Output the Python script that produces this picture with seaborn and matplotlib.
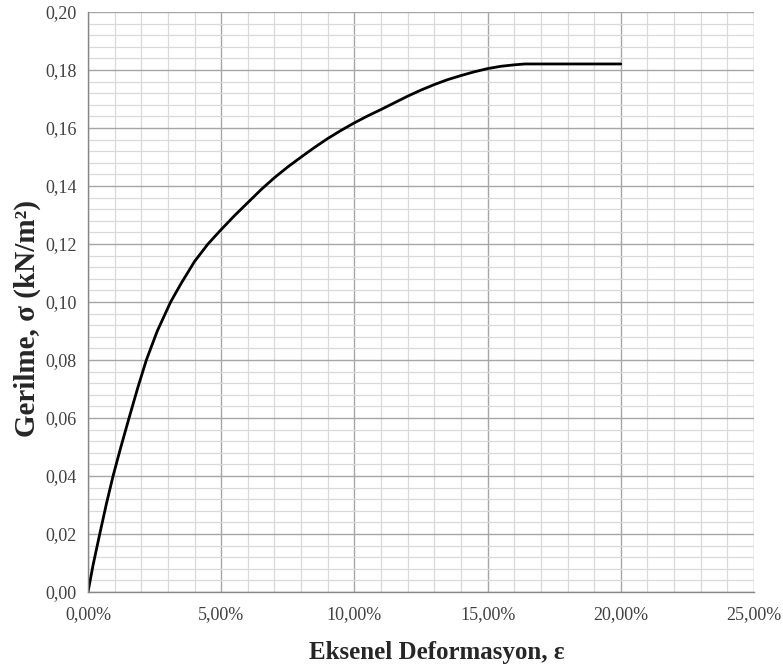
import numpy as np
import pandas as pd
import matplotlib
matplotlib.use('Agg')
import matplotlib.pyplot as plt
import seaborn as sns
from matplotlib.ticker import MultipleLocator, FuncFormatter

# okunan degerler (birim deformasyon %, gerilme kN/m2)
strain = [0.0, 0.19, 0.44, 0.69, 0.94, 1.23, 1.54, 1.87, 2.19, 2.60, 3.10,
          3.50, 4.00, 4.50, 5.00, 5.50, 6.00, 6.50, 7.00, 7.50, 8.00, 8.50,
          9.00, 9.50, 10.00, 10.50, 11.00, 11.50, 12.00, 12.50, 13.00,
          13.50, 14.00, 14.50, 15.00, 15.50, 16.00, 16.40, 17.00, 18.00,
          19.00, 20.00]
stress = [0.000, 0.0093, 0.020, 0.0304, 0.040, 0.0499, 0.060, 0.0705, 0.080,
          0.090, 0.100, 0.1065, 0.1140, 0.1200, 0.1250, 0.1298, 0.1343,
          0.1388, 0.1429, 0.1466, 0.1500, 0.1533, 0.1564, 0.1592, 0.1618,
          0.1642, 0.1664, 0.1687, 0.1710, 0.1731, 0.1750, 0.1767, 0.1781,
          0.1794, 0.1805, 0.1813, 0.1818, 0.1821, 0.1821, 0.1821, 0.1821,
          0.1821]

x_label = "Eksenel Deformasyon, ε"
y_label = "Gerilme, σ (kN/m²)"

df = pd.DataFrame({"strain": strain, "stress": stress})

sns.set_style("white")
plt.rcParams['font.family'] = ['Liberation Serif', 'DejaVu Serif']

fig = plt.figure(figsize=(7.83, 6.70), dpi=100)
ax = fig.add_axes([0.1124, 0.1164, 0.963 - 0.1124, 0.982 - 0.1164])

sns.lineplot(data=df, x="strain", y="stress", color="black", lw=2.0,
             estimator=None, sort=False, ax=ax)

ax.set_xlim(0, 25)
ax.set_ylim(0, 0.20)
ax.xaxis.set_major_locator(MultipleLocator(5))
ax.xaxis.set_minor_locator(MultipleLocator(1))
ax.yaxis.set_major_locator(MultipleLocator(0.02))
ax.yaxis.set_minor_locator(MultipleLocator(0.004))
ax.xaxis.set_major_formatter(FuncFormatter(lambda v, p: f"{v:.2f}%".replace('.', ',')))
ax.yaxis.set_major_formatter(FuncFormatter(lambda v, p: f"{v:.2f}".replace('.', ',')))

ax.grid(which='major', color='#a6a6a6', lw=1.0)
ax.grid(which='minor', color='#d9d9d9', lw=0.9)
ax.set_axisbelow(True)
for s in ['top', 'right']:
    ax.spines[s].set_visible(False)
for s in ['left', 'bottom']:
    ax.spines[s].set_color('#868686')
    ax.spines[s].set_linewidth(1.0)

ax.tick_params(which='major', direction='out', length=5, width=1,
               color='#868686', labelsize=13, labelcolor='#404040', pad=3)
ax.tick_params(which='minor', length=0)
ax.tick_params(axis='x', pad=5)

ax.set_xlabel(x_label, fontsize=18, fontweight='bold', labelpad=13)
ax.set_ylabel(y_label, fontsize=21, fontweight='bold', labelpad=3)
ax.xaxis.label.set_x(0.523)
ax.yaxis.label.set_y(0.472)

fig.savefig("out.png", dpi=100)
